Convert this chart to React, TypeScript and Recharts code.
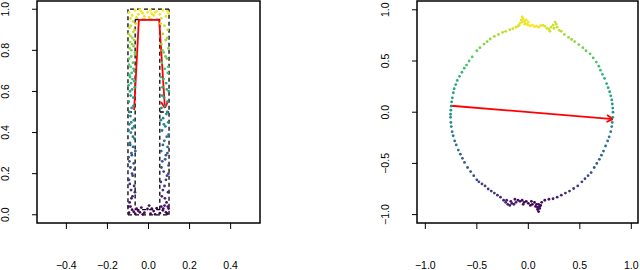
import React from 'react';
import { ScatterChart, Scatter, XAxis, YAxis, ReferenceArea, ReferenceLine } from 'recharts';

// left panel: points inside the dashed frame
const leftColumnPts: [number, number][] = [
  [-0.092, 0.06], [-0.078, 0.09], [-0.085, 0.12], [-0.07, 0.14], [-0.095, 0.17], [-0.08, 0.2], [-0.088, 0.23],
  [-0.072, 0.25], [-0.097, 0.28], [-0.083, 0.3], [-0.075, 0.33], [-0.09, 0.35], [-0.068, 0.37], [-0.086, 0.4],
  [-0.079, 0.42], [-0.094, 0.44], [-0.071, 0.46], [-0.088, 0.48], [-0.082, 0.52], [-0.096, 0.55], [-0.074, 0.57],
  [-0.09, 0.6], [-0.067, 0.62], [-0.085, 0.64], [-0.078, 0.66], [-0.093, 0.68], [-0.07, 0.7], [-0.087, 0.72],
  [-0.076, 0.74], [-0.095, 0.76], [-0.065, 0.78], [-0.083, 0.8], [-0.072, 0.82], [-0.09, 0.84], [-0.079, 0.86],
  [-0.097, 0.88], [-0.068, 0.9], [-0.086, 0.92], [-0.075, 0.94],
  [-0.098, 0.04], [-0.083, 0.08], [-0.066, 0.11], [-0.091, 0.15], [-0.077, 0.19], [-0.069, 0.22], [-0.093, 0.26],
  [-0.081, 0.29], [-0.064, 0.31], [-0.089, 0.34], [-0.076, 0.38], [-0.097, 0.41], [-0.07, 0.43], [-0.084, 0.45],
  [-0.092, 0.5], [-0.073, 0.53], [-0.087, 0.58], [-0.08, 0.61], [-0.097, 0.63], [-0.069, 0.65], [-0.09, 0.67],
  [-0.082, 0.69], [-0.073, 0.71], [-0.095, 0.73], [-0.084, 0.77], [-0.066, 0.79], [-0.092, 0.81], [-0.08, 0.83],
  [-0.07, 0.85], [-0.088, 0.87], [-0.074, 0.89], [-0.093, 0.91], [-0.062, 0.93],
];

const rightColumnPts: [number, number][] = [
  [0.072, 0.03], [0.088, 0.06], [0.065, 0.09], [0.095, 0.11], [0.078, 0.14], [0.06, 0.16], [0.09, 0.19],
  [0.074, 0.21], [0.098, 0.24], [0.067, 0.26], [0.085, 0.29], [0.062, 0.31], [0.093, 0.33], [0.077, 0.36],
  [0.089, 0.38], [0.066, 0.41], [0.082, 0.43], [0.096, 0.45], [0.071, 0.47], [0.087, 0.49], [0.063, 0.52],
  [0.092, 0.55], [0.076, 0.57], [0.099, 0.6], [0.068, 0.62], [0.086, 0.64], [0.06, 0.67], [0.094, 0.69],
  [0.079, 0.71], [0.065, 0.74], [0.09, 0.76], [0.074, 0.79], [0.097, 0.81], [0.062, 0.83], [0.084, 0.85],
  [0.07, 0.88], [0.093, 0.9], [0.078, 0.92],
  [0.094, 0.04], [0.08, 0.08], [0.07, 0.12], [0.085, 0.17], [0.097, 0.2], [0.063, 0.23], [0.081, 0.27],
  [0.092, 0.3], [0.07, 0.34], [0.098, 0.39], [0.075, 0.44], [0.06, 0.46], [0.091, 0.5], [0.08, 0.53],
  [0.066, 0.58], [0.089, 0.61], [0.073, 0.66], [0.096, 0.72], [0.083, 0.77], [0.068, 0.8], [0.091, 0.86],
  [0.059, 0.93],
];

const topBandPts: [number, number][] = [
  [-0.095, 0.985], [-0.08, 0.97], [-0.065, 0.995], [-0.05, 0.975], [-0.035, 0.99], [-0.02, 0.965],
  [-0.005, 0.985], [0.01, 0.995], [0.025, 0.97], [0.04, 0.99], [0.055, 0.975], [0.07, 0.995], [0.085, 0.965],
  [0.098, 0.98], [-0.088, 0.955], [-0.058, 0.96], [-0.028, 0.98], [0.003, 0.96], [0.032, 0.985], [0.062, 0.955],
  [0.092, 0.99], [-0.042, 0.998], [0.016, 0.978],
];

const bottomBandPts: [number, number][] = [
  [-0.095, 0.01], [-0.08, 0.025], [-0.065, 0.005], [-0.05, 0.02], [-0.035, 0.035], [-0.02, 0.01],
  [-0.005, 0.028], [0.01, 0.005], [0.025, 0.018], [0.04, 0.032], [0.055, 0.008], [0.07, 0.022], [0.085, 0.012],
  [0.098, 0.03], [-0.088, 0.04], [-0.058, 0.03], [-0.028, 0.002], [0.003, 0.045], [0.032, 0.002], [0.062, 0.04],
  [0.092, 0.005], [-0.042, 0.012], [0.016, 0.03], [0.078, 0.045], [-0.072, 0.015],
];

// right panel: ring of points
const ringTopPts: [number, number][] = [
  [-0.752, 0.02], [-0.75, 0.06], [-0.745, 0.1], [-0.738, 0.14], [-0.728, 0.19], [-0.72, 0.23], [-0.705, 0.27],
  [-0.69, 0.31], [-0.668, 0.35], [-0.645, 0.39], [-0.622, 0.43], [-0.6, 0.46], [-0.575, 0.5], [-0.545, 0.54],
  [-0.5, 0.6], [-0.47, 0.63], [-0.43, 0.665], [-0.4, 0.69], [-0.37, 0.715], [-0.33, 0.74], [-0.29, 0.76],
  [-0.25, 0.78], [-0.22, 0.79], [-0.18, 0.805], [-0.15, 0.815], [-0.12, 0.83], [-0.1, 0.84],
  [-0.08, 0.87], [-0.07, 0.9], [-0.06, 0.93], [-0.05, 0.91], [-0.04, 0.89], [-0.03, 0.87], [-0.02, 0.9],
  [-0.01, 0.86], [0.0, 0.85], [-0.035, 0.86], [0.02, 0.845], [0.04, 0.85], [0.06, 0.835], [0.08, 0.84],
  [0.1, 0.83], [0.12, 0.845], [0.14, 0.85], [0.16, 0.84], [0.18, 0.82], [0.2, 0.81], [0.22, 0.83],
  [0.24, 0.85], [0.26, 0.88], [0.27, 0.86], [0.25, 0.82], [0.28, 0.83], [0.3, 0.8], [0.32, 0.79],
  [-0.09, 0.85], [0.0, 0.88], [-0.06, 0.88], [0.21, 0.79],
  [0.35, 0.76], [0.39, 0.73], [0.42, 0.71], [0.45, 0.69], [0.49, 0.66], [0.53, 0.63], [0.56, 0.6],
  [0.6, 0.57], [0.63, 0.53], [0.66, 0.49], [0.685, 0.45], [0.7, 0.41], [0.72, 0.37], [0.74, 0.33],
  [0.76, 0.28], [0.775, 0.24], [0.79, 0.2], [0.8, 0.16], [0.81, 0.12], [0.815, 0.08], [0.82, 0.04], [0.822, 0.0],
];

const ringBottomPts: [number, number][] = [
  [0.82, -0.05], [0.815, -0.1], [0.81, -0.14], [0.8, -0.19], [0.785, -0.24], [0.77, -0.28], [0.75, -0.33],
  [0.73, -0.38], [0.71, -0.42], [0.69, -0.46], [0.665, -0.5], [0.64, -0.54], [0.61, -0.59], [0.58, -0.62],
  [0.55, -0.65], [0.52, -0.68], [0.48, -0.72], [0.44, -0.745], [0.4, -0.77], [0.36, -0.79], [0.32, -0.81],
  [0.28, -0.83], [0.24, -0.845], [0.2, -0.85],
  [0.16, -0.86], [0.13, -0.88], [0.12, -0.91], [0.11, -0.94], [0.1, -0.97], [0.09, -0.93], [0.08, -0.9],
  [0.1, -0.9], [0.07, -0.92], [0.06, -0.88], [0.04, -0.9], [0.02, -0.91], [0.0, -0.89], [-0.02, -0.87],
  [-0.04, -0.88], [-0.06, -0.86], [-0.08, -0.87], [-0.1, -0.86], [-0.12, -0.88], [-0.14, -0.9], [-0.16, -0.89],
  [-0.18, -0.91], [-0.2, -0.9], [-0.22, -0.88], [-0.24, -0.86], [-0.21, -0.86], [-0.17, -0.87], [-0.13, -0.85],
  [0.03, -0.87], [0.11, -0.92], [0.09, -0.95], [-0.05, -0.9],
  [-0.27, -0.83], [-0.3, -0.81], [-0.33, -0.79], [-0.36, -0.77], [-0.39, -0.75], [-0.42, -0.72], [-0.45, -0.7],
  [-0.48, -0.68], [-0.5, -0.66], [-0.53, -0.62], [-0.56, -0.58], [-0.59, -0.54], [-0.62, -0.49], [-0.64, -0.45],
  [-0.66, -0.41], [-0.68, -0.37], [-0.7, -0.32], [-0.715, -0.28], [-0.73, -0.23], [-0.74, -0.19],
  [-0.748, -0.14], [-0.752, -0.1], [-0.755, -0.05], [-0.755, -0.02],
];

// dashed outline (left) and red arrows
const outerFrame: [number, number][] = [[-0.1, 0], [0.1, 0], [0.1, 1], [-0.1, 1], [-0.1, 0]];
const innerFrame: [number, number][] = [[-0.065, 0.025], [0.055, 0.025], [0.055, 0.95], [-0.065, 0.95], [-0.065, 0.025]];
const midBars: [number, number][][] = [[[-0.1, 0.5], [-0.065, 0.5]], [[0.055, 0.5], [0.1, 0.5]]];
const leftArrow: [number, number][] = [[-0.07, 0.51], [-0.047, 0.948], [0.052, 0.948], [0.08, 0.52]];
const rightArrow: [number, number][] = [[-0.75, 0.063], [0.82, -0.067]];

const leftXTicks = [-0.4, -0.2, 0, 0.2, 0.4];
const leftYTicks = [0, 0.2, 0.4, 0.6, 0.8, 1.0];
const rightTicks = [-1, -0.5, 0, 0.5, 1];

const leftXDomain: [number, number] = [-0.543, 0.543];
const leftYDomain: [number, number] = [-0.04, 1.04];
const rightXDomain: [number, number] = [-1.081, 1.065];
const rightYDomain: [number, number] = [-1.082, 1.086];

const viridis = ['#440154', '#482475', '#414487', '#355f8d', '#2a788e', '#21918c', '#22a884', '#44bf70', '#7ad151', '#bddf26', '#fde725'];

const hex = (h: string) => [1, 3, 5].map(i => parseInt(h.slice(i, i + 2), 16));
const colorAt = (t: number) => {
  const v = Math.max(0, Math.min(1, t)) * 10;
  const i = Math.min(9, Math.floor(v));
  const f = v - i;
  const a = hex(viridis[i]);
  const b = hex(viridis[i + 1]);
  return `rgb(${a.map((c, k) => Math.round(c + (b[k] - c) * f)).join(',')})`;
};

const FONT = '"Liberation Sans", Arial, Helvetica, sans-serif';
const fmt = (v: number) => v.toFixed(1).replace('-', '\u2212');

const XTick = (props: any) => {
  const { x, y, payload } = props;
  return (
    <text x={x} y={y} dy="0.71em" textAnchor="middle" fontSize={10.5} fontFamily={FONT} fill="#000">
      {fmt(payload.value)}
    </text>
  );
};

const YTick = (props: any) => {
  const { x, y, payload } = props;
  return (
    <text transform={`translate(${x},${y}) rotate(-90)`} textAnchor="middle" fontSize={10.5} fontFamily={FONT} fill="#000">
      {fmt(payload.value)}
    </text>
  );
};

const Dot = (props: any) => {
  const { cx, cy, payload } = props;
  return <circle cx={cx} cy={cy} r={1.4} fill={colorAt(payload.t)} />;
};

const leftData = [...leftColumnPts, ...rightColumnPts, ...topBandPts, ...bottomBandPts].map(([x, y]) => ({ x, y, t: y }));
const rightData = [...ringTopPts, ...ringBottomPts].map(([x, y]) => ({
  x, y, t: 0.5 + Math.atan2(y, Math.abs(x - 0.035)) / Math.PI,
}));

const segs = (pts: [number, number][]) =>
  pts.slice(1).map((p, i) => [{ x: pts[i][0], y: pts[i][1] }, { x: p[0], y: p[1] }]);

// arrowhead legs, length in data units
const head = (pts: [number, number][], len: number) => {
  const [x1, y1] = pts[pts.length - 2];
  const [x2, y2] = pts[pts.length - 1];
  const ang = Math.atan2(y2 - y1, x2 - x1);
  return [Math.PI / 6, -Math.PI / 6].map(d => [
    { x: x2, y: y2 },
    { x: x2 - len * Math.cos(ang + d), y: y2 - len * Math.sin(ang + d) },
  ]);
};

const dashed = { stroke: '#000', strokeWidth: 1.3, strokeDasharray: '4 3' };
const red = { stroke: '#ff0000', strokeWidth: 1.8 };

export default function App() {
  const leftDash = [...segs(outerFrame), ...segs(innerFrame), ...midBars.map(b => segs(b)[0])];
  const leftRed = [...segs(leftArrow), ...head(leftArrow, 0.034)];
  const rightRed = [...segs(rightArrow), ...head(rightArrow, 0.068)];

  return (
    <div style={{ position: 'absolute', left: 0, top: 0, width: 640, height: 270, background: '#fff' }}>
      <div style={{ position: 'absolute', left: 0, top: 0 }}>
        <ScatterChart width={320} height={270} margin={{ top: 1, right: 60, bottom: 0, left: 0 }}>
          <XAxis type="number" dataKey="x" domain={leftXDomain} allowDataOverflow ticks={leftXTicks}
            axisLine={false} tickLine={{ stroke: '#000' }} tickSize={6} tickMargin={33} height={47} tick={<XTick />} />
          <YAxis type="number" dataKey="y" domain={leftYDomain} allowDataOverflow ticks={leftYTicks}
            axisLine={false} tickLine={{ stroke: '#000' }} tickSize={5} tickMargin={23} width={37} tick={<YTick />} />
          {leftDash.map((s, i) => <ReferenceLine key={'d' + i} segment={s} {...dashed} />)}
          <Scatter data={leftData} shape={<Dot />} isAnimationActive={false} />
          {leftRed.map((s, i) => <ReferenceLine key={'r' + i} segment={s} {...red} />)}
          <ReferenceArea x1={leftXDomain[0]} x2={leftXDomain[1]} y1={leftYDomain[0]} y2={leftYDomain[1]}
            fill="none" stroke="#000" strokeWidth={1.5} ifOverflow="visible" />
        </ScatterChart>
      </div>
      <div style={{ position: 'absolute', left: 320, top: 0 }}>
        <ScatterChart width={320} height={270} margin={{ top: 1, right: 2, bottom: 0, left: 0 }}>
          <XAxis type="number" dataKey="x" domain={rightXDomain} allowDataOverflow ticks={rightTicks}
            axisLine={false} tickLine={{ stroke: '#000' }} tickSize={6} tickMargin={33} height={47} tick={<XTick />} />
          <YAxis type="number" dataKey="y" domain={rightYDomain} allowDataOverflow ticks={rightTicks}
            axisLine={false} tickLine={{ stroke: '#000' }} tickSize={5} tickMargin={23} width={97} tick={<YTick />} />
          <Scatter data={rightData} shape={<Dot />} isAnimationActive={false} />
          {rightRed.map((s, i) => <ReferenceLine key={'r' + i} segment={s} {...red} />)}
          <ReferenceArea x1={rightXDomain[0]} x2={rightXDomain[1]} y1={rightYDomain[0]} y2={rightYDomain[1]}
            fill="none" stroke="#000" strokeWidth={1.5} ifOverflow="visible" />
        </ScatterChart>
      </div>
    </div>
  );
}
